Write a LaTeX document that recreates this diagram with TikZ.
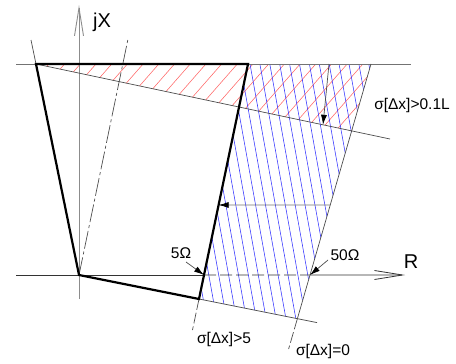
\documentclass[tikz,border=0pt]{standalone}
\usepackage{fontspec}
\setmainfont{Liberation Sans}
\usetikzlibrary{arrows.meta}
\begin{document}
\begin{tikzpicture}[x=1pt,y=-1pt,
  ln/.style={line width=0.7pt,draw=black!70},
  axisv/.style={line width=0.9pt,draw=black!45},
  axish/.style={line width=0.8pt,draw=black!80},
  bold/.style={line width=2.2pt,draw=black,line join=miter},
  hatchred/.style={line width=0.55pt,draw=red!60},
  hatchblue/.style={line width=0.55pt,draw=blue!80},
  dashline/.style={ln,dash pattern=on 11pt off 3pt},
  dashdotline/.style={ln,dash pattern=on 18pt off 3pt on 3pt off 3pt},
  pointer/.style={ln,-{Latex[length=10pt,width=6pt,color=black]}},
  lbl/.style={font=\fontsize{15.5}{18}\selectfont,inner sep=0pt},
  biglbl/.style={font=\fontsize{20}{24}\selectfont,inner sep=0pt},
  barb/.style={-{Straight Barb[length=28pt,width=9pt]}}]
\useasboundingbox (0,0) rectangle (456,364);
% key points
\coordinate (O) at (79,275);
\coordinate (TL) at (36,64);
\coordinate (TR) at (248,64);
\coordinate (BR) at (199,299);
\coordinate (F1) at (371,64);
\coordinate (F2) at (288.6,349);
\coordinate (S2) at (390,139);
\coordinate (B2) at (317,322.6);
\coordinate (E1) at (192.5,330);
\coordinate (L0) at (31,40);
\coordinate (D1) at (128,39);
\coordinate (HL) at (16,64);
\coordinate (HR) at (411,64);
\coordinate (AxL) at (16,275);
\coordinate (AxR) at (405,275);
\coordinate (AyB) at (79,299);
\coordinate (AyT) at (79,5);
\coordinate (RedC) at (intersection of F1--F2 and TL--S2);
\coordinate (BlueC) at (intersection of F1--F2 and O--B2);
\coordinate (X5) at (intersection of TR--BR and AxL--AxR);
\coordinate (X50) at (intersection of F1--F2 and AxL--AxR);
% red hatching
\begin{scope}
\clip (TL) -- (F1) -- (RedC) -- cycle;
\foreach \k in {-6,...,22} {
  \draw[hatchred] ({111.7+15.7*\k-100},178) -- ++(200,-228);
}
\end{scope}
% blue hatching
\begin{scope}
\clip (TR) -- (F1) -- (BlueC) -- (BR) -- cycle;
\foreach \k in {-11,...,13} {
  \draw[hatchblue] ({250+9.9*\k-18},-36) -- ++(72,400);
}
\end{scope}
% axes
\draw[axisv,barb] (AyB) -- (AyT);
\draw[axish] (AxL) -- (X5);
\draw[axish,dash pattern=on 12pt off 4pt] (X5) -- (X50);
\draw[axish,barb] (X50) -- (AxR);
% thin lines
\draw[ln,draw=black!55] (HL) -- (HR);
\draw[ln] (L0) -- (TL);
\draw[dashdotline] (O) -- (D1);
\draw[ln] (TL) -- (S2);
\draw[ln] (O) -- (B2);
\draw[ln] (F1) -- (BlueC);
\draw[dashline] (BlueC) -- (F2);
\draw[dashline] (BR) -- (E1);
% bold polygon
\draw[bold] (O) -- (TL) -- (TR) -- (BR) -- cycle;
% horizontal pointer
\coordinate (H1) at (intersection of F1--F2 and 0,205--456,205);
\coordinate (H2) at (intersection of TR--BR and 0,205--456,205);
\draw[pointer,draw=black!55] (H1) -- (H2);
% 0.1L pointer
\coordinate (P1) at (329,64);
\coordinate (P2) at (323,124.8);
\draw[pointer] (P1) -- (P2);
% labels
\node[biglbl] (jx) at (102,22) {jX};
\node[biglbl] (r) at (411,262) {R};
\node[lbl] (l01) at (412,105) {σ[Δx]>0.1L};
\node[lbl] (l5) at (181,253) {5Ω};
\node[lbl] (l50) at (345,255) {50Ω};
\node[lbl] (lg5) at (224,339) {σ[Δx]>5};
\node[lbl] (lg0) at (323,351) {σ[Δx]=0};
\coordinate (Q5) at (186,262);
\coordinate (Q50) at (328,260);
\draw[pointer] (Q5) -- (X5);
\draw[pointer] (Q50) -- (X50);
\end{tikzpicture}
\end{document}
